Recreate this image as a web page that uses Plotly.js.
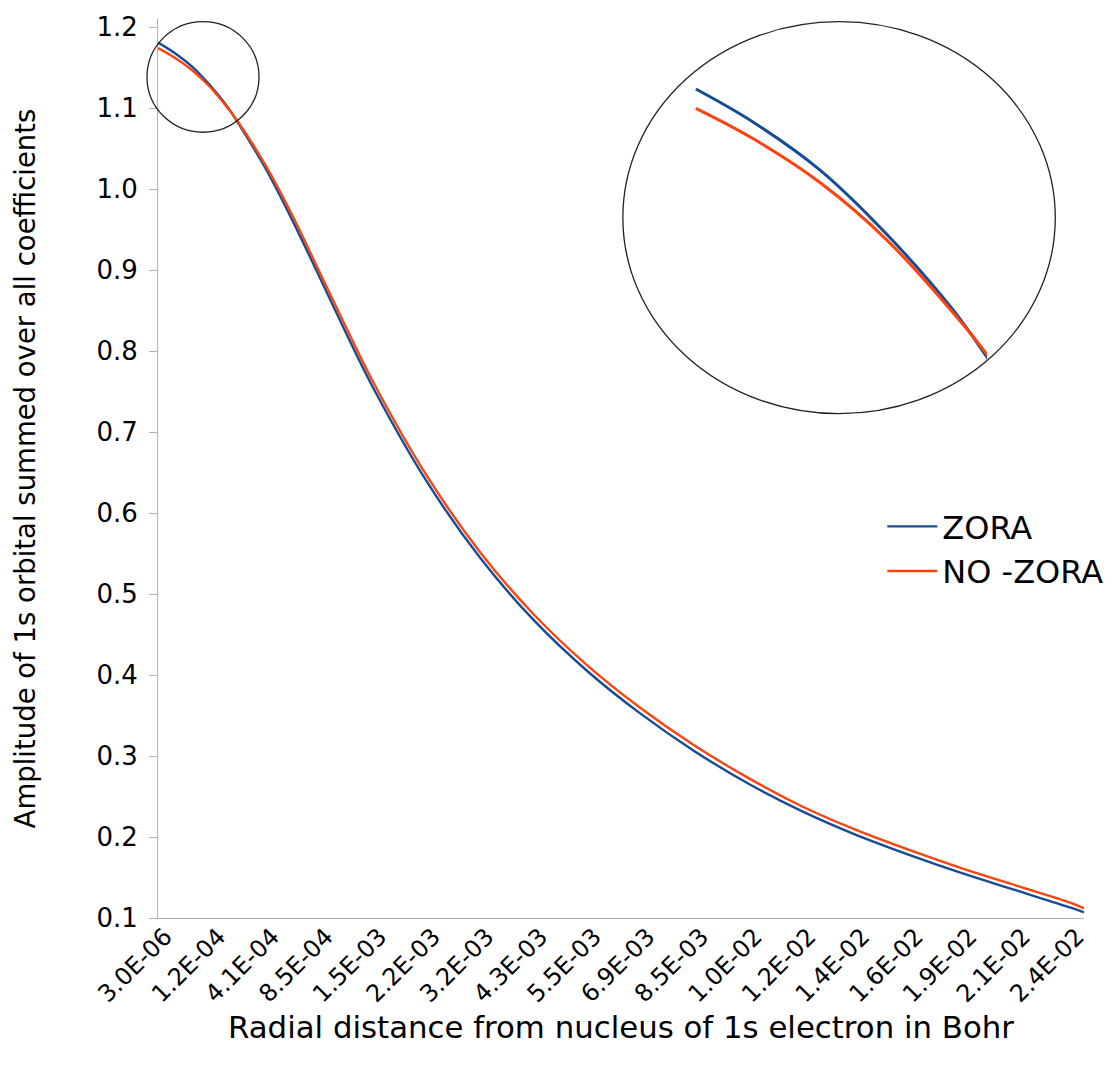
<!DOCTYPE html>
<html>
<head>
<meta charset="utf-8">
<script src="https://cdn.plot.ly/plotly-3.0.1.min.js"></script>
<style>
  html, body { margin: 0; padding: 0; background: #ffffff; }
  #chart { width: 1115px; height: 1066px; }
</style>
</head>
<body>
<div id="chart"></div>
<script>
// ---- data ----
const tickLabels = ['3.0E-06','1.2E-04','4.1E-04','8.5E-04','1.5E-03','2.2E-03','3.2E-03','4.3E-03','5.5E-03',
                    '6.9E-03','8.5E-03','1.0E-02','1.2E-02','1.4E-02','1.6E-02','1.9E-02','2.1E-02','2.4E-02'];
// x position of each sample, in units of the labelled category steps
const xIndex  = [0, 0.29, 0.63, 0.97, 1.3, 1.47, 2, 2.5, 3, 3.5, 4, 5, 6, 7, 8, 9, 10, 11, 12, 13, 14, 15, 16, 17, 17.26];
const zora    = [1.181, 1.169, 1.1515, 1.128, 1.101, 1.084, 1.026, 0.962, 0.893, 0.823, 0.756, 0.640, 0.545, 0.468,
                 0.405, 0.352, 0.306, 0.266, 0.232, 0.203, 0.178, 0.155, 0.134, 0.113, 0.107];
const noZora  = [1.174, 1.163, 1.147, 1.126, 1.100, 1.085, 1.030, 0.968, 0.899, 0.830, 0.763, 0.647, 0.552, 0.475,
                 0.412, 0.359, 0.313, 0.273, 0.238, 0.209, 0.184, 0.161, 0.140, 0.119, 0.112];
const seriesNames = ['ZORA', 'NO -ZORA'];
const xTitle = 'Radial distance from nucleus of 1s electron in Bohr';
const yTitle = 'Amplitude of 1s orbital summed over all coefficients';

// ---- styles ----
const FONT = 'DejaVu Sans, Liberation Sans, Arial, sans-serif';
const BLUE = '#144d96';
const RED  = '#ff420e';
const GRAY = '#b3b3b3';

const traces = [
  { x: xIndex, y: zora, name: seriesNames[0], type: 'scatter', mode: 'lines',
    line: { color: BLUE, width: 2.4, shape: 'spline', smoothing: 1 } },
  { x: xIndex, y: noZora, name: seriesNames[1], type: 'scatter', mode: 'lines',
    line: { color: RED, width: 2.4, shape: 'spline', smoothing: 1 } },
  // magnified inset of the circled region
  { x: xIndex, y: zora, xaxis: 'x2', yaxis: 'y2', type: 'scatter', mode: 'lines', showlegend: false,
    line: { color: BLUE, width: 3, shape: 'spline', smoothing: 1 }, hoverinfo: 'skip' },
  { x: xIndex, y: noZora, xaxis: 'x2', yaxis: 'y2', type: 'scatter', mode: 'lines', showlegend: false,
    line: { color: RED, width: 3, shape: 'spline', smoothing: 1 }, hoverinfo: 'skip' }
];

const layout = {
  width: 1115, height: 1066,
  margin: { l: 158, r: 31, t: 19, b: 148, pad: 0, autoexpand: false },
  paper_bgcolor: '#ffffff', plot_bgcolor: 'rgba(0,0,0,0)',
  font: { family: FONT, color: '#000000' },
  showlegend: true,
  legend: {
    x: 0.7822, y: 0.466, xanchor: 'left', yanchor: 'top',
    font: { family: FONT, size: 32, color: '#000' },
    bgcolor: 'rgba(0,0,0,0)', itemwidth: 50
  },
  xaxis: {
    range: [0, 17.26], autorange: false,
    tickmode: 'array',
    tickvals: tickLabels.map((_, i) => i),
    ticktext: tickLabels,
    tickangle: -45, ticks: '',
    tickfont: { family: FONT, size: 24, color: '#000' },
    ticklabelstandoff: -6, ticklabelshift: 7,
    showline: true, linecolor: GRAY, linewidth: 1,
    showgrid: false, zeroline: false,
    automargin: false
  },
  yaxis: {
    range: [0.1, 1.21], autorange: false,
    dtick: 0.1, tick0: 0.1, tickformat: '.1f',
    ticks: 'outside', ticklen: 8, tickcolor: GRAY, tickwidth: 1,
    tickfont: { family: FONT, size: 26, color: '#000' },
    ticklabelstandoff: 6,
    showline: true, linecolor: GRAY, linewidth: 1,
    showgrid: false, zeroline: false,
    automargin: false,
    title: { text: yTitle, font: { family: FONT, size: 27.5, color: '#000' }, standoff: 52 }
  },
  xaxis2: {
    domain: [0.5702, 0.8952], anchor: 'y2', range: [-0.05, 1.47], autorange: false,
    showline: false, showgrid: false, zeroline: false, showticklabels: false, ticks: '', fixedrange: true
  },
  yaxis2: {
    domain: [0.6207, 0.9344], anchor: 'x2', range: [1.083, 1.185], autorange: false,
    showline: false, showgrid: false, zeroline: false, showticklabels: false, ticks: '', fixedrange: true
  },
  annotations: [
    { text: xTitle, xref: 'paper', yref: 'paper', x: 0.5, y: -0.1212, xanchor: 'center', yanchor: 'middle',
      showarrow: false, font: { family: FONT, size: 30.8, color: '#000' } }
  ],
  shapes: [
    { type: 'circle', xref: 'paper', yref: 'paper', x0: -0.0119, x1: 0.1091, y0: 0.874, y1: 0.997,
      line: { color: '#222222', width: 1.3 }, fillcolor: 'rgba(0,0,0,0)' },
    { type: 'circle', xref: 'paper', yref: 'paper', x0: 0.502, x1: 0.969, y0: 0.561, y1: 0.997,
      line: { color: '#222222', width: 1.3 }, fillcolor: 'rgba(0,0,0,0)' }
  ]
};

Plotly.newPlot('chart', traces, layout, { displayModeBar: false, staticPlot: true });
</script>
</body>
</html>
